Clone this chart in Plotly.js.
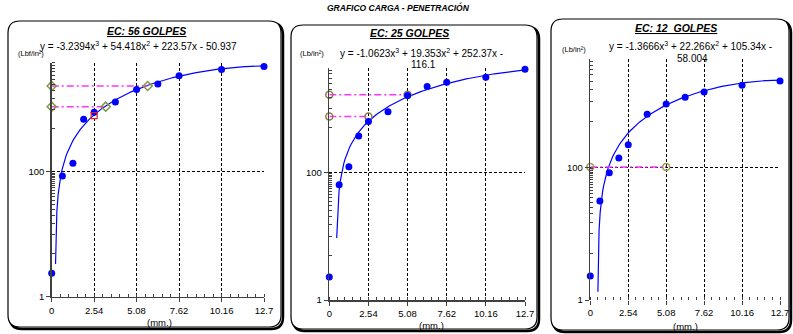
<!DOCTYPE html>
<html>
<head>
<meta charset="utf-8">
<script src="https://cdn.plot.ly/plotly-3.0.1.min.js"></script>
<style>
html,body{margin:0;padding:0;background:#fff;}
#chart{width:793px;height:334px;}
</style>
</head>
<body>
<div id="chart"></div>
<script>
// ---------- DATA ----------
const penetration = [0, 0.64, 1.27, 1.91, 2.54, 3.81, 5.08, 6.35, 7.62, 10.16, 12.7];
const xTickVals = [0, 2.54, 5.08, 7.62, 10.16, 12.7];
const xTickText = ['0', '2.54', '5.08', '7.62', '10.16', '12.7'];
const yTickVals = [1, 100];
const yTickText = ['1', '100'];

const load56 = [2.37, 85, 136, 690, 895, 1303, 2060, 2540, 3440, 4300, 4800];
const load25 = [2.3, 63.7, 122, 373, 625, 887, 1600, 2214, 2590, 3094, 4140];
const load12 = [2.3, 31, 83, 138, 219, 631, 902, 1140, 1375, 1726, 2004];

// trendline coefficients [x^3, x^2, x, const] as printed on the chart
const coef56 = [-3.2394, 54.418, 223.57, -50.937];
const coef25 = [-1.0623, 19.353, 252.37, -116.1];
const coef12 = [-1.3666, 22.266, 105.34, -58.004];
const trendStart = [0.23, 0.48, 0.51];

// corrected-load guide lines (x end, load)
const guide56 = [[3.23, 1096], [5.74, 2350]];
const guide25 = [[2.54, 750], [5.08, 1640]];
const guide12 = [[5.08, 101]];
const curvePoint56 = [2.54, 787];

const panelTitles = ['EC: 56 GOLPES', 'EC: 25 GOLPES', 'EC: 12  GOLPES'];
const unitLabels = ['(Lbf/in\u00b2)', '(Lb/in\u00b2)', '(Lb/in\u00b2)'];
const mainTitle = 'GRAFICO CARGA - PENETRACI\u00d3N';

// ---------- LAYOUT GEOMETRY (pixels) ----------
const W = 793, H = 334;
const px = v => v / W, py = v => 1 - v / H;
const plotBoxes = [
  {x0: 51.7, x1: 264, top: 62.7, bottom: 296.7, ytop: 3.744},
  {x0: 329.3, x1: 525, top: 67.7, bottom: 300, ytop: 3.64},
  {x0: 590.3, x1: 780, top: 59.3, bottom: 300, ytop: 3.63}
];
const panelRects = [
  [8, 21, 281, 327],
  [291, 25, 537, 329],
  [551, 19, 789, 330]
];

const FONT = 'Liberation Sans, Arial, sans-serif';
const blue = '#0000FF';

function poly(c, x) { return ((c[0] * x + c[1]) * x + c[2]) * x + c[3]; }
function trend(c, x0) {
  const xs = [], ys = [];
  const n = 160;
  for (let i = 0; i <= n; i++) {
    const x = x0 + (12.7 - x0) * i / n;
    xs.push(x); ys.push(poly(c, x));
  }
  return {xs, ys};
}

const traces = [];
const loads = [load56, load25, load12];
const coefs = [coef56, coef25, coef12];
const guides = [guide56, guide25, guide12];
const guideMarker = [
  {symbol: 'diamond-open', color: '#7f9a3a'},
  {symbol: 'circle-open', color: '#8a7a4a'},
  {symbol: 'circle-open', color: '#9a9a50'}
];

for (let k = 0; k < 3; k++) {
  const xa = 'x' + (k === 0 ? '' : k + 1), ya = 'y' + (k === 0 ? '' : k + 1);
  const t = trend(coefs[k], trendStart[k]);
  traces.push({x: t.xs, y: t.ys, xaxis: xa, yaxis: ya, mode: 'lines',
    line: {color: blue, width: 1.2}, hoverinfo: 'skip', cliponaxis: false});
  guides[k].forEach(g => {
    traces.push({x: [0, g[0]], y: [g[1], g[1]], xaxis: xa, yaxis: ya, mode: 'lines+markers',
      line: {color: '#FF33FF', width: 1.5, dash: '7px,3px,2px,3px'},
      marker: {symbol: guideMarker[k].symbol, size: 7, color: guideMarker[k].color, line: {width: 1.5, color: guideMarker[k].color}},
      cliponaxis: false});
  });
  traces.push({x: penetration, y: loads[k], xaxis: xa, yaxis: ya, mode: 'markers',
    marker: {color: blue, size: 7}, cliponaxis: false});
}
traces.push({x: [curvePoint56[0]], y: [curvePoint56[1]], xaxis: 'x', yaxis: 'y', mode: 'markers',
  marker: {symbol: 'square-open', size: 6, color: '#e02020', line: {width: 1.2, color: '#e02020'}}, cliponaxis: false});

const xMinor = [];
for (let v = 0; v <= 12.7001; v += 0.508) xMinor.push(+v.toFixed(3));
const yMinor = [];
for (let v = 5; v < 100; v += 5) yMinor.push(v);
for (let v = 500; v < 6000; v += 500) yMinor.push(v);

const layout = {
  width: W, height: H,
  margin: {l: 0, r: 0, t: 0, b: 0},
  paper_bgcolor: '#fff', plot_bgcolor: 'rgba(0,0,0,0)',
  showlegend: false,
  font: {family: FONT, color: '#000', size: 9},
  shapes: [], annotations: []
};

function rrPath(x0, y0, x1, y1, r) {
  const P = (x, y) => px(x).toFixed(5) + ',' + py(y).toFixed(5);
  return 'M' + P(x0 + r, y0) + ' L' + P(x1 - r, y0) + ' Q' + P(x1, y0) + ' ' + P(x1, y0 + r) +
    ' L' + P(x1, y1 - r) + ' Q' + P(x1, y1) + ' ' + P(x1 - r, y1) +
    ' L' + P(x0 + r, y1) + ' Q' + P(x0, y1) + ' ' + P(x0, y1 - r) +
    ' L' + P(x0, y0 + r) + ' Q' + P(x0, y0) + ' ' + P(x0 + r, y0) + ' Z';
}

const titlePos = [[146, 31], [409, 33.3], [676, 28.3]];
const eqLines = [
  ['y = -3.2394x<sup>3</sup> + 54.418x<sup>2</sup> + 223.57x - 50.937'],
  ['y = -1.0623x<sup>3</sup> + 19.353x<sup>2</sup> + 252.37x -', '116.1'],
  ['y = -1.3666x<sup>3</sup> + 22.266x<sup>2</sup> + 105.34x -', '58.004']
];
const eqPos = [[[138, 46]], [[421.7, 53.3], [423.3, 64.3]], [[690, 46], [692.7, 58.3]]];
const unitPos = [[31, 53.3], [312, 53.3], [574, 49.3]];
const mmPos = [[159.5, 322.3], [431.5, 325], [685, 326]];

for (let k = 0; k < 3; k++) {
  const r = panelRects[k];
  layout.shapes.push({type: 'path', xref: 'paper', yref: 'paper', layer: 'below',
    path: rrPath(r[0] + 2, r[1] + 2, r[2] + 2, r[3] + 2, 12), line: {color: '#000', width: 2.5}});
  layout.shapes.push({type: 'path', xref: 'paper', yref: 'paper', layer: 'below',
    path: rrPath(r[0], r[1], r[2], r[3], 12), line: {color: '#000', width: 1.2}, fillcolor: '#fff'});

  const b = plotBoxes[k];
  const sfx = k === 0 ? '' : String(k + 1);
  layout['xaxis' + sfx] = {
    domain: [px(b.x0), px(b.x1)], range: [0, 12.7], anchor: 'y' + sfx,
    tickmode: 'array', tickvals: xTickVals, ticktext: xTickText,
    ticks: 'outside', ticklen: 4, tickcolor: '#404040',
    showline: k !== 2, linecolor: '#404040', linewidth: 1.5,
    showgrid: true, gridcolor: '#000', gridwidth: 1, griddash: '3px,2px',
    zeroline: false, tickfont: {size: 9.5, family: FONT},
    minor: {tickmode: 'array', tickvals: xMinor, ticks: 'inside', ticklen: 3, tickcolor: '#404040', showgrid: false},
    fixedrange: true
  };
  layout['yaxis' + sfx] = {
    domain: [py(b.bottom), py(b.top)], type: 'log', range: [0, b.ytop], anchor: 'x' + sfx,
    tickmode: 'array', tickvals: yTickVals, ticktext: yTickText,
    ticks: 'outside', ticklen: 4, tickcolor: '#404040',
    showline: true, linecolor: '#404040', linewidth: 1.5,
    showgrid: true, gridcolor: '#000', gridwidth: 1, griddash: '3px,2px',
    zeroline: false, tickfont: {size: 9.5, family: FONT},
    minor: {tickmode: 'array', tickvals: yMinor, ticks: 'inside', ticklen: 3, tickcolor: '#404040', showgrid: false},
    fixedrange: true
  };

  layout.annotations.push({xref: 'paper', yref: 'paper', x: px(titlePos[k][0]), y: py(titlePos[k][1]),
    text: '<b><i><u>' + panelTitles[k] + '</u></i></b>', showarrow: false,
    font: {size: 10.5, family: FONT}, xanchor: 'center', yanchor: 'middle'});
  eqLines[k].forEach((t, i) => {
    layout.annotations.push({xref: 'paper', yref: 'paper', x: px(eqPos[k][i][0]), y: py(eqPos[k][i][1]),
      text: t, showarrow: false, font: {size: 10, family: FONT}, xanchor: 'center', yanchor: 'middle'});
  });
  layout.annotations.push({xref: 'paper', yref: 'paper', x: px(unitPos[k][0]), y: py(unitPos[k][1]),
    text: unitLabels[k], showarrow: false, font: {size: 7.5, family: FONT}, xanchor: 'center', yanchor: 'middle'});
  layout.annotations.push({xref: 'paper', yref: 'paper', x: px(mmPos[k][0]), y: py(mmPos[k][1]),
    text: '(mm.)', showarrow: false, font: {size: 9.5, family: FONT}, xanchor: 'center', yanchor: 'middle'});
}

layout.annotations.push({xref: 'paper', yref: 'paper', x: px(398), y: py(8),
  text: '<b><i>' + mainTitle + '</i></b>', showarrow: false,
  font: {size: 8.5, family: FONT}, xanchor: 'center', yanchor: 'middle'});

Plotly.newPlot('chart', traces, layout, {displayModeBar: false, staticPlot: true});
</script>
</body>
</html>
